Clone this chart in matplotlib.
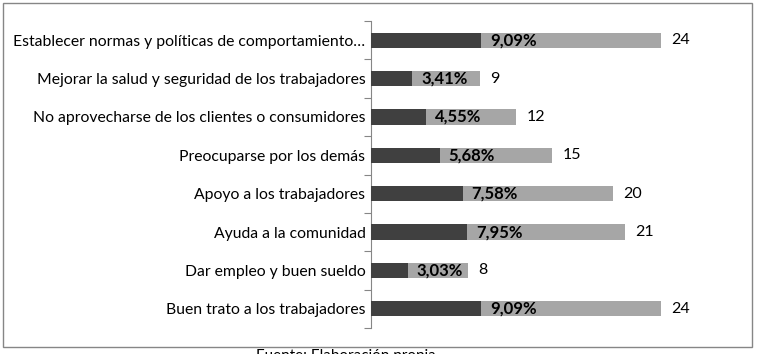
import numpy as np
import matplotlib.pyplot as plt
from matplotlib.patches import Rectangle

plt.rcParams['font.family'] = ['Lato', 'DejaVu Sans']

categorias = ['Establecer normas y políticas de comportamiento…',
              'Mejorar la salud y seguridad de los trabajadores',
              'No aprovecharse de los clientes o consumidores',
              'Preocuparse por los demás',
              'Apoyo a los trabajadores',
              'Ayuda a la comunidad',
              'Dar empleo y buen sueldo',
              'Buen trato a los trabajadores']
frecuencia = [24, 9, 12, 15, 20, 21, 8, 24]
porcentaje = [9.09, 3.41, 4.55, 5.68, 7.58, 7.95, 3.03, 9.09]

fig = plt.figure(figsize=(7.62, 3.54), dpi=100)
W, H = 762, 354
ax = fig.add_axes([371 / W, 1 - 328 / H, 370 / W, (328 - 21) / H])

y = np.arange(len(categorias))[::-1]
ax.barh(y, frecuencia, height=0.4, color='#a6a6a6', zorder=2)
ax.barh(y, porcentaje, height=0.4, color='#404040', zorder=3)

for yi, f, p in zip(y, frecuencia, porcentaje):
    ax.text(p + 0.75, yi, ('%.2f%%' % p).replace('.', ','), va='center', ha='left',
            fontsize=12, fontweight='bold', color='black', zorder=4)
    ax.text(f + 0.85, yi, str(f), va='center', ha='left', fontsize=11.5, color='black')

ax.set_xlim(0, 370 / 12.08)
ax.set_ylim(-0.5, len(categorias) - 0.5)
ax.set_yticks(y)
ax.set_yticklabels(categorias, fontsize=11.3)
ax.set_yticks(np.arange(len(categorias) + 1) - 0.5, minor=True)
ax.tick_params(axis='y', which='major', length=0, pad=4)
ax.tick_params(axis='y', which='minor', length=5, color='#868686', width=0.8)
ax.set_xticks([])
for s in ['top', 'right', 'bottom']:
    ax.spines[s].set_visible(False)
ax.spines['left'].set_color('#868686')
ax.spines['left'].set_linewidth(0.8)

fig.patches.append(Rectangle((3 / W, 1 - 347 / H), 749 / W, 344 / H, transform=fig.transFigure,
                             fill=False, edgecolor='#868686', linewidth=1.0))
fig.text(256 / W, 1 - 349 / H, 'Fuente: Elaboración propia', fontsize=11, va='top', ha='left')

fig.savefig('out.png', dpi=100)
